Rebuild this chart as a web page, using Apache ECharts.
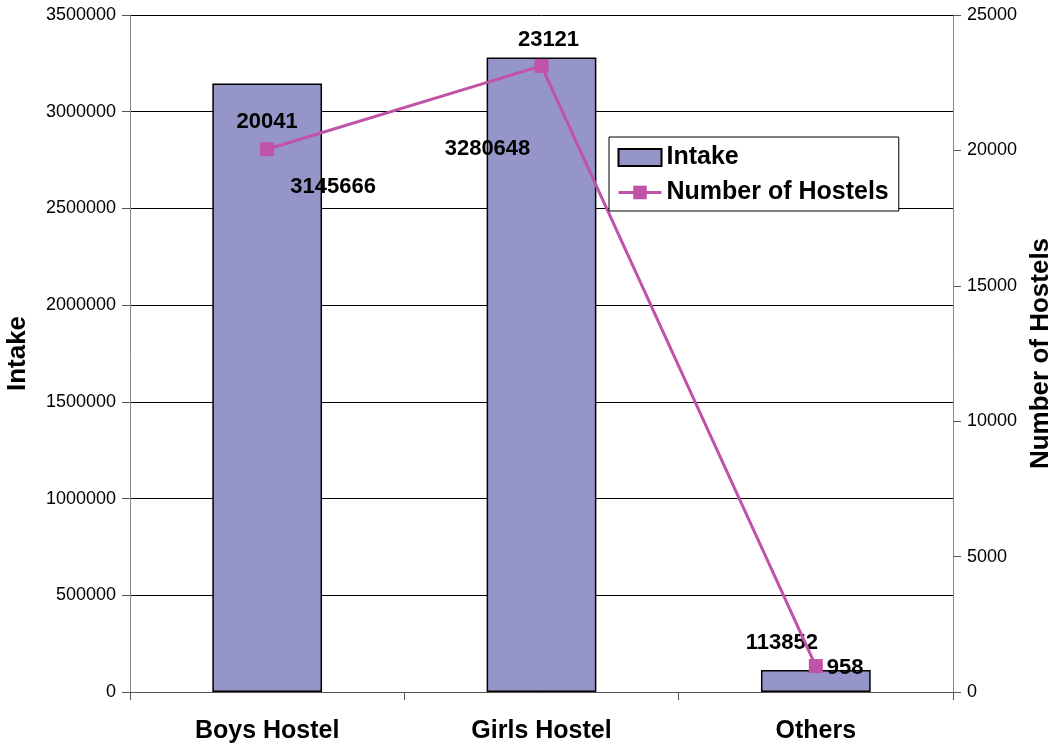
<!DOCTYPE html>
<html>
<head>
<meta charset="utf-8">
<script src="https://cdn.jsdelivr.net/npm/echarts@6/dist/echarts.min.js"></script>
<style>
  html, body { margin: 0; padding: 0; background: #fff; }
  #chart { width: 1056px; height: 746px; }
</style>
</head>
<body>
<div id="chart"></div>
<script>
const categories = ['Boys Hostel', 'Girls Hostel', 'Others'];
const intake = [3145666, 3280648, 113852];
const hostels = [20041, 23121, 958];

// label offsets, tuned to sit where the original put them
const intakeLabelOffsets = [[66, 114], [-54, 103], [-34, -16]];

var myChart = echarts.init(document.getElementById('chart'));
const font = 'Liberation Sans, Arial, sans-serif';
const plain = v => String(v);

const option = {
    animation: false,
    textStyle: { fontFamily: font },
    grid: { left: 130, right: 103, top: 15, bottom: 54, outerBoundsMode: 'none', containLabel: false },
    legend: {
        left: 609,
        top: 137,
        orient: 'vertical',
        backgroundColor: '#fff',
        borderColor: '#000',
        borderWidth: 1,
        padding: [8, 10, 6, 8],
        itemGap: 10,
        itemWidth: 43,
        itemHeight: 17,
        textStyle: { fontFamily: font, fontSize: 25, fontWeight: 'bold', color: '#000' },
        data: [
            { name: 'Intake', icon: 'rect' },
            { name: 'Number of Hostels', lineStyle: { width: 3 } }
        ]
    },
    xAxis: {
        type: 'category',
        data: categories,
        axisLine: { lineStyle: { color: '#555', width: 1 } },
        axisTick: { show: true, length: 8, lineStyle: { color: '#555' } },
        axisLabel: { margin: 27, fontSize: 25, fontWeight: 'bold', color: '#000', fontFamily: font }
    },
    yAxis: [
        {
            type: 'value',
            min: 0,
            max: 3500000,
            interval: 500000,
            name: 'Intake',
            nameLocation: 'middle',
            nameGap: 99,
            nameTextStyle: { fontSize: 26, fontWeight: 'bold', color: '#000', fontFamily: font },
            axisLine: { show: true, lineStyle: { color: '#888' } },
            axisTick: { show: true, length: 8, lineStyle: { color: '#555' } },
            axisLabel: { margin: 14, fontSize: 18, color: '#000', fontFamily: font, formatter: plain },
            splitLine: { show: true, lineStyle: { color: '#000', width: 1 } }
        },
        {
            type: 'value',
            min: 0,
            max: 25000,
            interval: 5000,
            name: 'Number of Hostels',
            nameLocation: 'middle',
            nameGap: 74,
            nameRotate: 90,
            nameTextStyle: { fontSize: 26, fontWeight: 'bold', color: '#000', fontFamily: font },
            axisLine: { show: true, lineStyle: { color: '#888' } },
            axisTick: { show: true, length: 8, lineStyle: { color: '#555' } },
            axisLabel: { margin: 14, fontSize: 18, color: '#000', fontFamily: font, formatter: plain },
            splitLine: { show: false }
        }
    ],
    series: [
        {
            name: 'Intake',
            type: 'bar',
            barWidth: '40%',
            yAxisIndex: 0,
            itemStyle: { color: '#9595C9', borderColor: '#000', borderWidth: 1.5 },
            data: intake.map((v, i) => ({
                value: v,
                label: { offset: intakeLabelOffsets[i] }
            })),
            label: {
                show: true,
                position: 'top',
                distance: 0,
                fontSize: 22,
                fontWeight: 'bold',
                color: '#000',
                fontFamily: font
            },
            z: 2
        },
        {
            name: 'Number of Hostels',
            type: 'line',
            yAxisIndex: 1,
            symbol: 'rect',
            symbolSize: 14,
            lineStyle: { color: '#C052A8', width: 3 },
            itemStyle: { color: '#C052A8' },
            data: [
                { value: hostels[0], label: { position: 'top', distance: 0, offset: [0, -9] } },
                { value: hostels[1], label: { position: 'top', distance: 0, offset: [7, -8] } },
                { value: hostels[2], label: { position: 'right', distance: 4, offset: [0, 2] } }
            ],
            label: {
                show: true,
                fontSize: 22,
                fontWeight: 'bold',
                color: '#000',
                fontFamily: font
            },
            z: 3
        }
    ]
};

myChart.setOption(option);
</script>
</body>
</html>
